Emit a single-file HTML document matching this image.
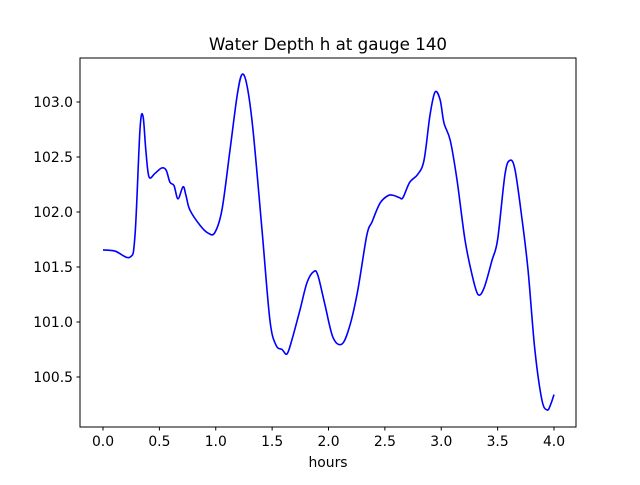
<!DOCTYPE html>
<html><head><meta charset="utf-8"><style>
body{margin:0;background:#fff;}
svg text{font-family:"DejaVu Sans","Liberation Sans",sans-serif;fill:#000;}
</style></head><body>
<svg width="640" height="480" xmlns="http://www.w3.org/2000/svg">
<rect width="640" height="480" fill="#fff"/>
<text x="328" y="50" font-size="16.7" text-anchor="middle">Water Depth h at gauge 140</text>
<g id="axes"></g>
<path id="line" fill="none" stroke="#0000ff" stroke-width="1.6"/>
<rect x="80" y="58" width="496" height="369" fill="none" stroke="#000" stroke-width="1"/>
<text x="328" y="467" font-size="13.9" text-anchor="middle">hours</text>
</svg>
<script>
const hours=[0,0.106,0.24,0.284,0.328,0.355,0.38,0.408,0.46,0.52,0.56,0.594,0.63,0.665,0.71,0.736,0.77,0.86,0.93,0.99,1.055,1.126,1.19,1.233,1.277,1.33,1.41,1.48,1.534,1.588,1.632,1.676,1.747,1.81,1.871,1.907,1.97,2.04,2.12,2.19,2.26,2.34,2.386,2.457,2.53,2.58,2.63,2.66,2.72,2.79,2.847,2.9,2.945,2.99,3.024,3.08,3.14,3.21,3.273,3.326,3.38,3.45,3.5,3.565,3.61,3.655,3.717,3.77,3.83,3.893,3.94,3.97,4.0];
const depth=[101.655,101.645,101.59,101.79,102.75,102.87,102.56,102.32,102.35,102.40,102.38,102.27,102.24,102.12,102.23,102.15,102.02,101.88,101.81,101.81,102.02,102.56,103.06,103.25,103.15,102.75,101.84,101.02,100.79,100.75,100.71,100.84,101.11,101.36,101.46,101.42,101.15,100.86,100.80,100.97,101.29,101.79,101.91,102.08,102.15,102.15,102.13,102.13,102.27,102.34,102.47,102.88,103.09,103.02,102.81,102.65,102.29,101.75,101.43,101.25,101.31,101.56,101.75,102.34,102.47,102.38,101.93,101.47,100.75,100.29,100.20,100.25,100.34];
const xTicks=[0,0.5,1,1.5,2,2.5,3,3.5,4];
const xTickLabels=["0.0","0.5","1.0","1.5","2.0","2.5","3.0","3.5","4.0"];
const yTicks=[100.5,101,101.5,102,102.5,103];
const yTickLabels=["100.5","101.0","101.5","102.0","102.5","103.0"];
const X=t=>103+t*112.75;
const Y=v=>102+(103-v)*110;
const NS="http://www.w3.org/2000/svg";
const ax=document.getElementById('axes');
function mk(tag,attrs){const e=document.createElementNS(NS,tag);for(const k in attrs)e.setAttribute(k,attrs[k]);ax.appendChild(e);return e;}
xTicks.forEach((t,i)=>{
  const l=mk('line',{x1:X(t),x2:X(t),y1:427,y2:430.5,stroke:'#000'});
  
  
  const s=mk('text',{x:X(t),y:446,'font-size':13.9,'text-anchor':'middle'});
  s.textContent=xTickLabels[i];
  
  
});
yTicks.forEach((v,i)=>{
  const l=mk('line',{x1:76.5,x2:80,y1:Y(v),y2:Y(v),stroke:'#000'});
  
  
  const s=mk('text',{x:73,y:Y(v)+5,'font-size':13.9,'text-anchor':'end'});
  s.textContent=yTickLabels[i];
  
  
});
const P=hours.map((h,i)=>[X(h),Y(depth[i])]);
let d=`M${P[0][0]},${P[0][1]}`;
for(let i=0;i<P.length-1;i++){
  const p0=P[Math.max(i-1,0)],p1=P[i],p2=P[i+1],p3=P[Math.min(i+2,P.length-1)];
  const c1=[p1[0]+(p2[0]-p0[0])/6,p1[1]+(p2[1]-p0[1])/6];
  const c2=[p2[0]-(p3[0]-p1[0])/6,p2[1]-(p3[1]-p1[1])/6];
  d+=` C${c1[0]},${c1[1]} ${c2[0]},${c2[1]} ${p2[0]},${p2[1]}`;
}
document.getElementById('line').setAttribute('d',d);
</script>
</body></html>
